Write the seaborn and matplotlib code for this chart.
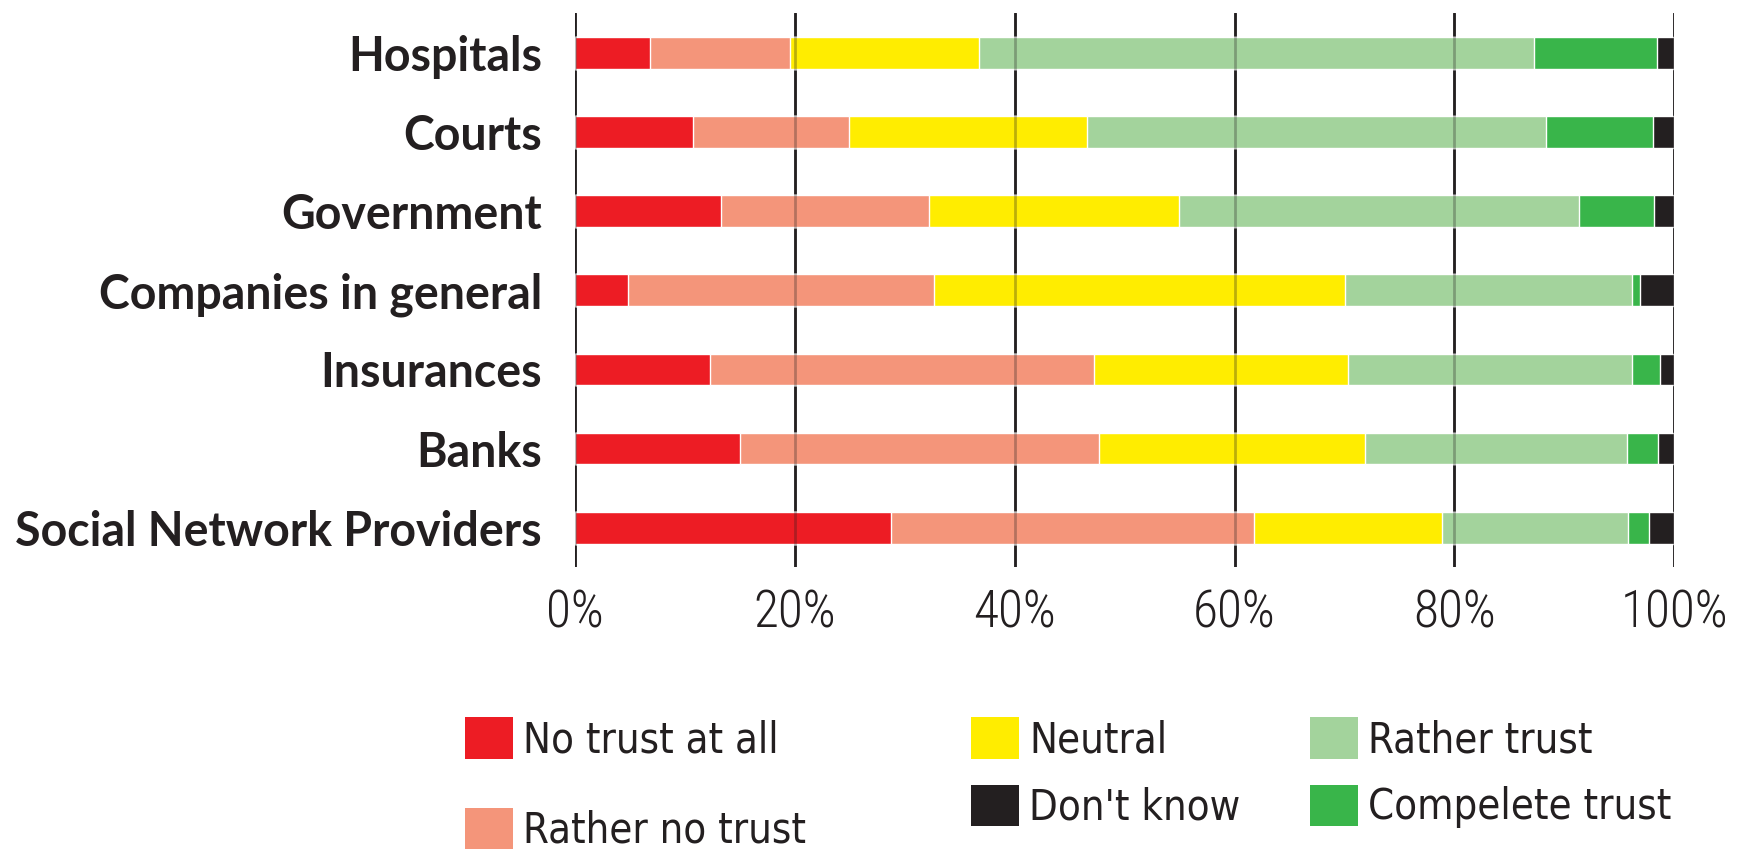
import numpy as np
import pandas as pd
import seaborn as sns
import matplotlib
matplotlib.use("Agg")
import matplotlib.pyplot as plt
from matplotlib.patches import Patch

# Survey: trust in institutions (% of respondents)
institutions = ["Hospitals", "Courts", "Government", "Companies in general",
                "Insurances", "Banks", "Social Network Providers"]
no_trust = [6.8, 10.7, 13.3, 4.8, 12.3, 15.0, 28.7]
rather_no_trust = [12.7, 14.2, 18.9, 27.8, 34.9, 32.7, 33.1]
neutral = [17.2, 21.7, 22.7, 37.4, 23.1, 24.2, 17.1]
rather_trust = [50.5, 41.7, 36.4, 26.2, 25.9, 23.8, 16.9]
complete_trust = [11.2, 9.8, 6.9, 0.7, 2.5, 2.8, 1.9]
dont_know = [1.6, 1.9, 1.8, 3.1, 1.3, 1.5, 2.3]

series_names = ["No trust at all", "Rather no trust", "Neutral",
                "Rather trust", "Compelete trust", "Don't know"]
series_values = [no_trust, rather_no_trust, neutral,
                 rather_trust, complete_trust, dont_know]
series_colors = ["#ED1C24", "#F4957A", "#FFED00",
                 "#A3D39C", "#39B54A", "#231F20"]
x_ticks = [0, 20, 40, 60, 80, 100]
x_tick_labels = ["0%", "20%", "40%", "60%", "80%", "100%"]

sns.set_theme(style="white")
plt.rcParams["font.family"] = ["DejaVu Sans"]

fig = plt.figure(figsize=(17.45, 8.52), dpi=100)
ax = fig.add_axes([0.3297, 0.3341, 0.6297, 0.6503])

# cumulative right edges, drawn from the outermost segment inwards
cum = np.cumsum(np.array(series_values, dtype=float), axis=0)
for i in range(len(series_names) - 1, -1, -1):
    df = pd.DataFrame({"institution": institutions, "edge": cum[i]})
    sns.barplot(data=df, x="edge", y="institution", color=series_colors[i],
                width=0.4, saturation=1, ax=ax, zorder=2, errorbar=None)

ax.set_xlim(0, 100)
ax.set_ylim(6.5, -0.5)

# vertical gridlines: solid in the gaps, faint where they cross the bars
for xv in x_ticks:
    ax.axvline(xv, color="#231F20", lw=2.0, zorder=1)
    ax.axvline(xv, color="#231F20", lw=2.0, alpha=0.3, zorder=3)

for s in ax.spines.values():
    s.set_visible(False)

ax.set_xlabel("")
ax.set_ylabel("")
ax.set_xticks(x_ticks)
ax.set_xticklabels(x_tick_labels, fontsize=37, fontweight="light",
                   color="#231F20", family=["Roboto Condensed", "DejaVu Sans"])
ax.set_yticks(range(len(institutions)))
ax.set_yticklabels(institutions, fontsize=33.5, fontweight="bold", color="#231F20",
                   family=["Lato", "DejaVu Sans"])
ax.tick_params(axis="x", length=0, pad=15)
ax.tick_params(axis="y", length=0, pad=24)

# legend in three columns
legend_cols = [
    ([0, 1], 0.2665, 1.12),
    ([2, 5], 0.5564, 0.56),
    ([3, 4], 0.7507, 0.56),
]
for idx, xpos, spacing in legend_cols:
    handles = [Patch(facecolor=series_colors[k], edgecolor="none") for k in idx]
    labels = [series_names[k] for k in idx]
    leg = fig.legend(handles, labels, loc="upper left",
                     bbox_to_anchor=(xpos, 0.158), frameon=False,
                     borderpad=0, borderaxespad=0, handlelength=1.15,
                     handleheight=1.15, handletextpad=0.25,
                     labelspacing=spacing,
                     prop={"family": ["DejaVu Sans"], "stretch": "condensed",
                           "size": 30})
    for t in leg.get_texts():
        t.set_color("#231F20")

fig.savefig("out.png", dpi=100, facecolor="white")
